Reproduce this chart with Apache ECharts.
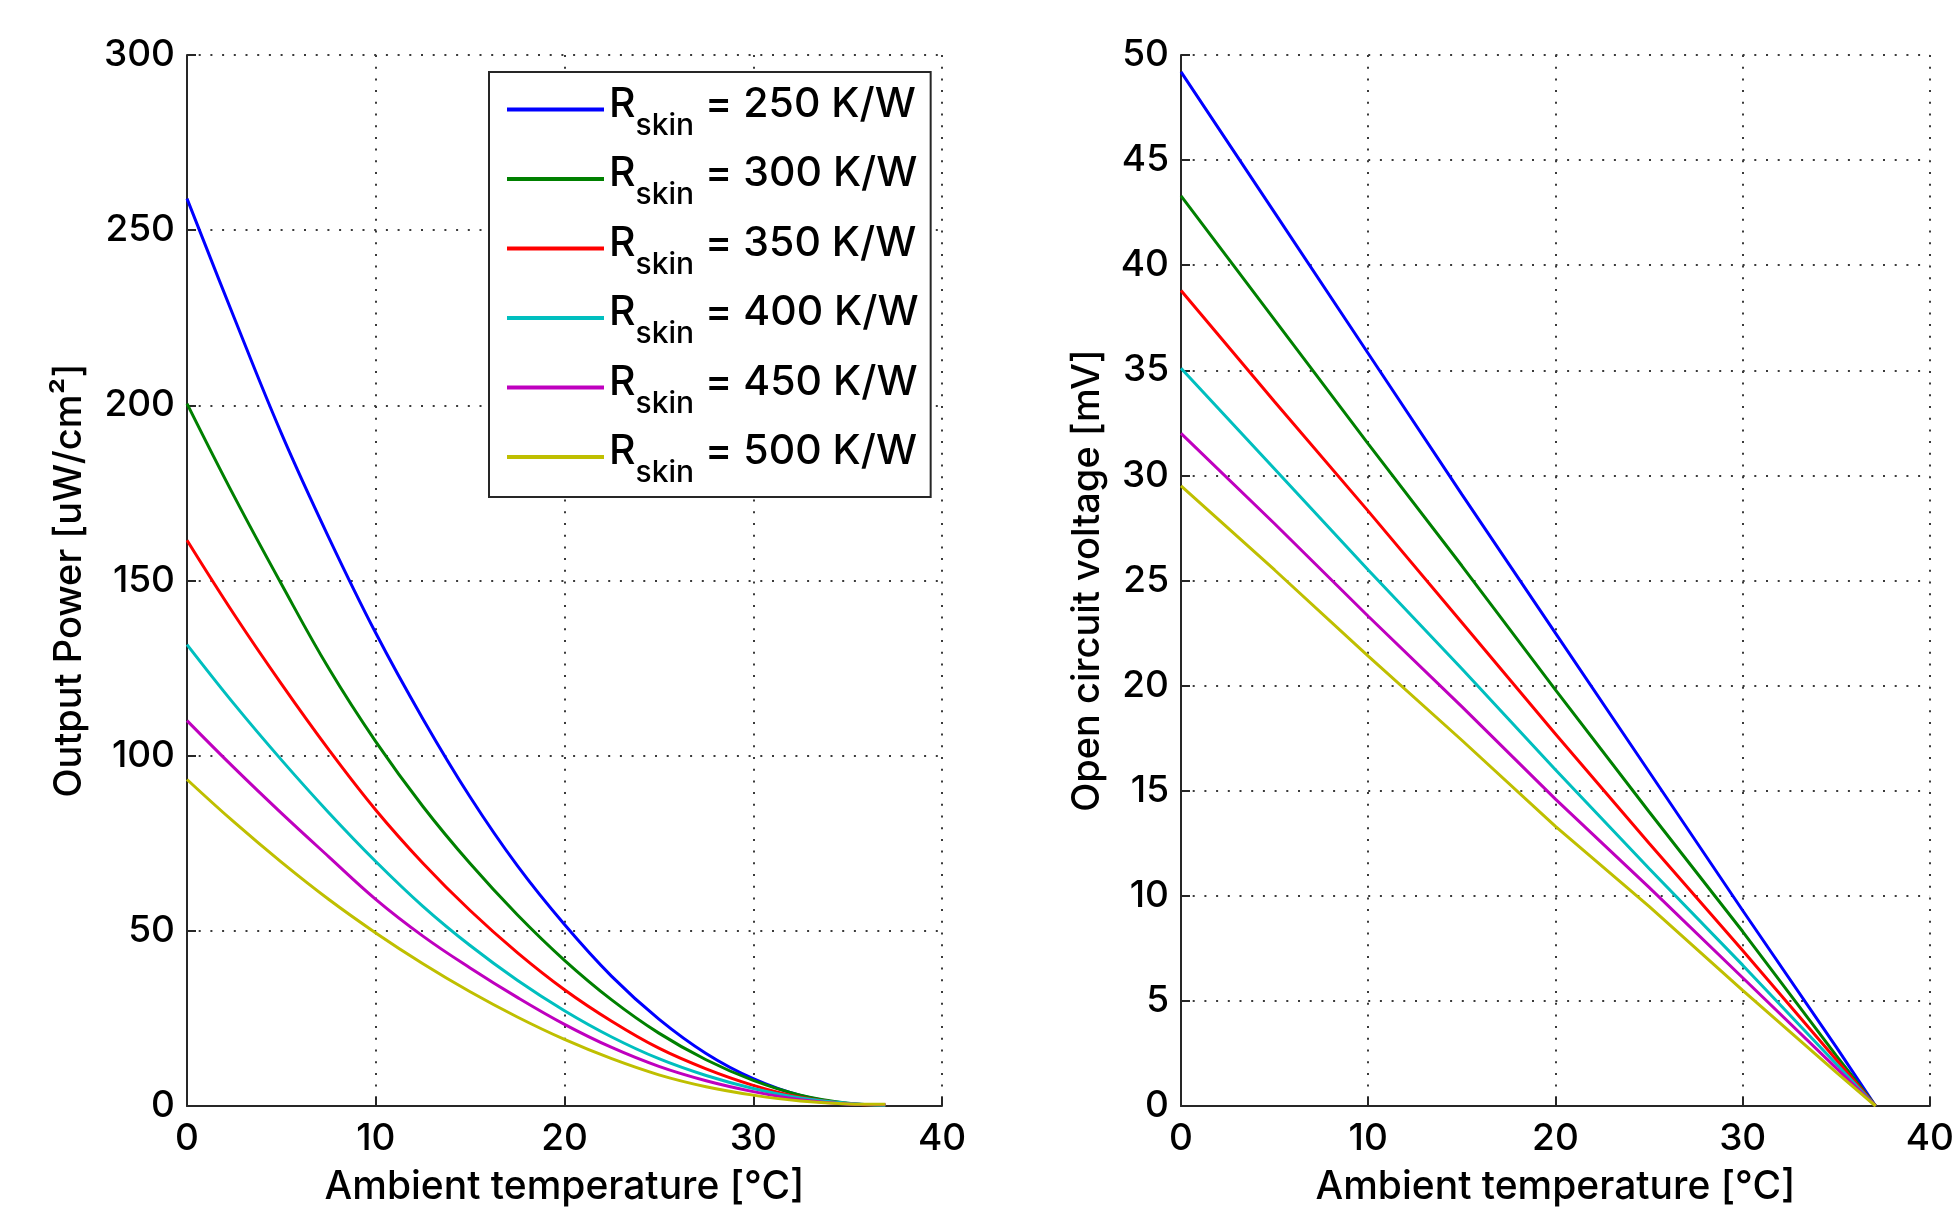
<!DOCTYPE html>
<html><head><meta charset="utf-8">
<script src="https://cdn.jsdelivr.net/npm/echarts@6/dist/echarts.min.js"></script>
<style>html,body{margin:0;padding:0;background:#fff}#c{width:1957px;height:1215px}</style>
</head><body><div id="c"></div>
<script>
// ---- data ----
const resistances = [250, 300, 350, 400, 450, 500];
const colors = ['#0000FF', '#008000', '#FF0000', '#00BFBF', '#BF00BF', '#BFBF00'];

const powerTemps = [0, 2.5, 5, 7.5, 10, 12.5, 15, 17.5, 20, 22.5, 25, 27.5, 30, 32.5, 35, 37];
const power250 = [259, 225, 192, 162.4, 135, 110.5, 88.2, 68.6, 51.8, 37, 24.8, 15, 7.8, 3.0, 0.6];
const power300 = [200.5, 174, 149, 125, 104, 85.5, 69.2, 54.6, 41.6, 30.3, 20.8, 13.2, 7.3, 3.1, 0.8, 0.2];
const power350 = [161.5, 140.3, 120.5, 101.8, 84.5, 69.3, 55.8, 43.8, 33.2, 24.2, 16.5, 10.6, 5.9, 2.5, 0.7, 0.2];
const power400 = [131.7, 114.7, 98.8, 83.8, 69.8, 57, 45.8, 35.9, 27.2, 19.7, 13.5, 8.7, 5.0, 2.3, 0.8, 0.2];
const power450 = [110, 96.5, 83.6, 71.2, 59, 48.5, 39.4, 31, 23.3, 16.7, 11.3, 7.2, 4.1, 1.8, 0.6, 0.4];
const power500 = [93.2, 81, 69.6, 59, 49.4, 40.6, 32.6, 25.4, 19.0, 13.5, 8.9, 5.5, 3.1, 1.4, 0.6, 0.5];

const voltageTemps = [0, 5, 10, 15, 20, 25, 30, 35, 37.1];
const voltage250 = [49.2, 42.5, 35.8, 29.1, 22.5, 15.9, 9.3, 2.8, 0];
const voltage300 = [43.3, 37.4, 31.5, 25.7, 19.8, 14.0, 8.3, 2.4, 0];
const voltage350 = [38.8, 33.5, 28.3, 23.0, 17.7, 12.5, 7.4, 2.2, 0];
const voltage400 = [35.1, 30.3, 25.5, 20.8, 16.0, 11.3, 6.7, 2.0, 0];
const voltage450 = [32.0, 27.7, 23.3, 19.0, 14.6, 10.4, 6.1, 1.8, 0];
const voltage500 = [29.5, 25.5, 21.4, 17.4, 13.3, 9.5, 5.5, 1.6, 0];

const xTicks = [0, 10, 20, 30, 40];
const powerTicks = [0, 50, 100, 150, 200, 250, 300];
const voltageTicks = [0, 5, 10, 15, 20, 25, 30, 35, 40, 45, 50];

const powerSeries = [power250, power300, power350, power400, power450, power500];
const voltageSeries = [voltage250, voltage300, voltage350, voltage400, voltage450, voltage500];
const names = resistances.map(r => 'Rskin = ' + r + ' K/W');

// ---- chart ----
const FONT = 'Inter';
const WEIGHT = 500;
const axisLineStyle = { color: '#262626', width: 2 };
function xAxisCfg(gridIndex) {
  return {
    type: 'value', gridIndex, min: xTicks[0], max: xTicks[xTicks.length - 1],
    interval: xTicks[1] - xTicks[0],
    name: 'Ambient temperature [°C]', nameLocation: 'middle', nameGap: 62,
    nameTextStyle: { color: '#000', fontSize: 39, fontFamily: FONT, fontWeight: WEIGHT },
    axisLine: { show: true, onZero: false, lineStyle: axisLineStyle },
    axisTick: { show: true, inside: true, length: 9, lineStyle: axisLineStyle },
    axisLabel: { color: '#000', fontSize: 37, fontFamily: FONT, fontWeight: WEIGHT, margin: 14 },
    splitLine: { show: true, lineStyle: { color: '#3a3a3a', width: 2, type: [2, 9.7] } }
  };
}
function yAxisCfg(gridIndex, ticks, name, gap) {
  return {
    type: 'value', gridIndex, min: ticks[0], max: ticks[ticks.length - 1],
    interval: ticks[1] - ticks[0],
    name, nameLocation: 'middle', nameGap: gap, nameRotate: 90,
    nameTextStyle: { color: '#000', fontSize: 38, fontFamily: FONT, fontWeight: WEIGHT },
    axisLine: { show: true, onZero: false, lineStyle: axisLineStyle },
    axisTick: { show: true, inside: true, length: 9, lineStyle: axisLineStyle },
    axisLabel: { color: '#000', fontSize: 37, fontFamily: FONT, fontWeight: WEIGHT, margin: 12 },
    splitLine: { show: true, lineStyle: { color: '#3a3a3a', width: 2, type: [2, 9.7] } }
  };
}

const series = [];
powerSeries.forEach((vals, i) => {
  series.push({
    name: names[i], type: 'line', xAxisIndex: 0, yAxisIndex: 0,
    data: vals.map((v, k) => [powerTemps[k], v]),
    showSymbol: false, symbol: 'none', smooth: 0.4,
    color: colors[i], lineStyle: { color: colors[i], width: 3 }
  });
});
voltageSeries.forEach((vals, i) => {
  series.push({
    name: names[i], type: 'line', xAxisIndex: 1, yAxisIndex: 1,
    data: vals.map((v, k) => [voltageTemps[k], v]),
    showSymbol: false, symbol: 'none',
    color: colors[i], lineStyle: { color: colors[i], width: 3 }
  });
});

const chart = echarts.init(document.getElementById('c'), null, { renderer: 'canvas' });
chart.setOption({
  animation: false,
  backgroundColor: '#fff',
  grid: [
    { left: 187, top: 55, width: 755, height: 1051 },
    { left: 1181, top: 55, width: 753, height: 1051 }
  ],
  xAxis: [xAxisCfg(0), xAxisCfg(1)],
  yAxis: [
    yAxisCfg(0, powerTicks, 'Output Power [uW/cm²]', 98),
    yAxisCfg(1, voltageTicks, 'Open circuit voltage [mV]', 74)
  ],
  legend: {
    data: names, orient: 'vertical', left: 489, top: 72,
    padding: [12, 12, 9, 18], itemGap: 13, itemWidth: 97, itemHeight: 4, icon: 'rect',
    borderColor: '#262626', borderWidth: 2, backgroundColor: '#fff', borderRadius: 0,
    selectedMode: false,
    formatter: function (name) {
      const val = name.replace('Rskin = ', '');
      return '{r|R}{s|skin}{t| = ' + val + '}';
    },
    textStyle: {
      color: '#000', fontFamily: FONT, fontSize: 41, fontWeight: WEIGHT,
      rich: {
        r: { fontSize: 41, fontFamily: FONT, fontWeight: WEIGHT, color: '#000', padding: [0, 0, 10, 0] },
        s: { fontSize: 30, fontFamily: FONT, fontWeight: WEIGHT, color: '#000', padding: [32, 0, 0, 0] },
        t: { fontSize: 41, fontFamily: FONT, fontWeight: WEIGHT, color: '#000', padding: [0, 0, 10, 0] }
      }
    }
  },
  series
});
</script>
</body></html>
